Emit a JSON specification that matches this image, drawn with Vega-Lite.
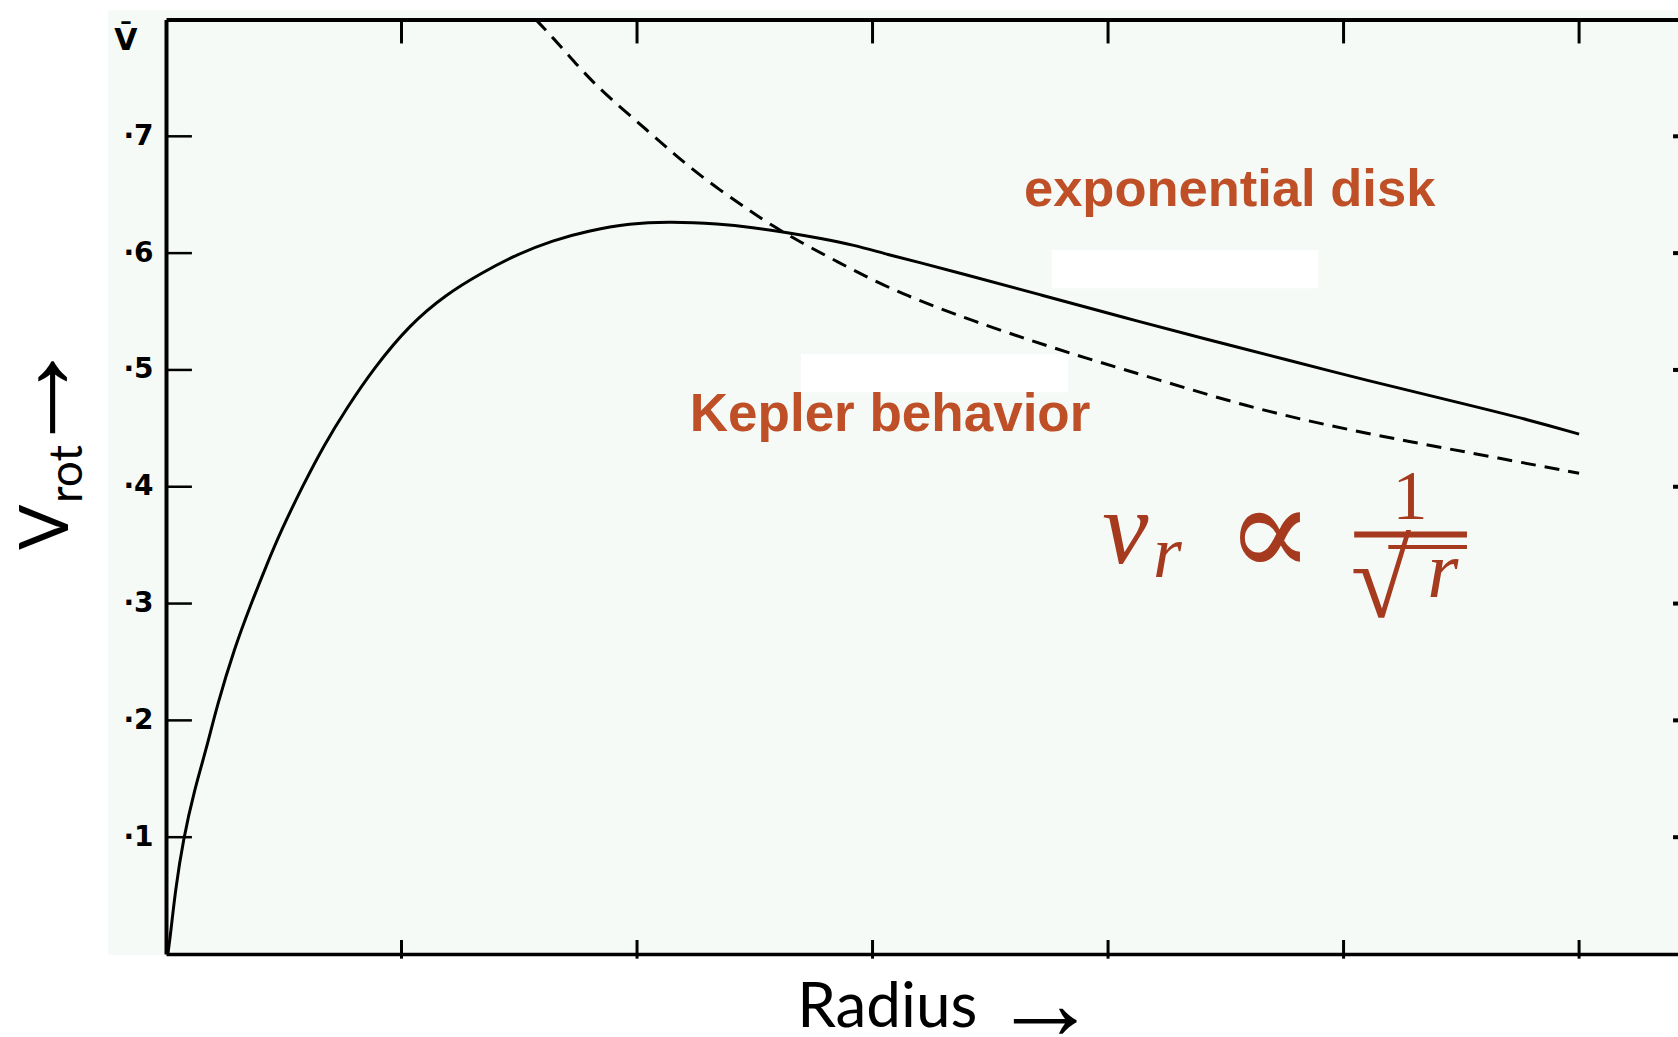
{
  "$schema": "https://vega.github.io/schema/vega-lite/v6.json",
  "width": 1512,
  "height": 934.5,
  "autosize": "none",
  "padding": {"left": 166, "top": 19.5, "right": 0, "bottom": 83},
  "background": "white",
  "config": {"view": {"stroke": null}},
  "datasets": {
    "disk": [
      {"r": 0.008, "v": 0.0}, {"r": 0.02, "v": 0.018}, {"r": 0.04, "v": 0.055}, {"r": 0.073, "v": 0.098},
      {"r": 0.12, "v": 0.14}, {"r": 0.172, "v": 0.176}, {"r": 0.217, "v": 0.213}, {"r": 0.293, "v": 0.263},
      {"r": 0.354, "v": 0.296}, {"r": 0.429, "v": 0.334}, {"r": 0.49, "v": 0.363}, {"r": 0.581, "v": 0.401},
      {"r": 0.672, "v": 0.436}, {"r": 0.763, "v": 0.466}, {"r": 0.884, "v": 0.502}, {"r": 1.036, "v": 0.539},
      {"r": 1.188, "v": 0.5645}, {"r": 1.339, "v": 0.583}, {"r": 1.49, "v": 0.599}, {"r": 1.643, "v": 0.611},
      {"r": 1.79, "v": 0.619}, {"r": 1.97, "v": 0.6255}, {"r": 2.14, "v": 0.627}, {"r": 2.35, "v": 0.625},
      {"r": 2.49, "v": 0.622}, {"r": 2.64, "v": 0.6176}, {"r": 2.78, "v": 0.6127}, {"r": 2.92, "v": 0.607},
      {"r": 3.06, "v": 0.599}, {"r": 3.2, "v": 0.592}, {"r": 3.37, "v": 0.583}, {"r": 3.72, "v": 0.564},
      {"r": 4.065, "v": 0.545}, {"r": 4.41, "v": 0.5267}, {"r": 4.76, "v": 0.5086}, {"r": 5.1, "v": 0.491},
      {"r": 5.45, "v": 0.474}, {"r": 5.8, "v": 0.4567}, {"r": 6.0, "v": 0.445}
    ],
    "kepler": [
      {"r": 1.57, "v": 0.8}, {"r": 1.645, "v": 0.784}, {"r": 1.73, "v": 0.7645}, {"r": 1.814, "v": 0.746},
      {"r": 1.928, "v": 0.725}, {"r": 2.041, "v": 0.7055}, {"r": 2.14, "v": 0.688}, {"r": 2.239, "v": 0.671},
      {"r": 2.352, "v": 0.654}, {"r": 2.466, "v": 0.638}, {"r": 2.565, "v": 0.6245}, {"r": 2.706, "v": 0.608},
      {"r": 2.848, "v": 0.593}, {"r": 2.99, "v": 0.578}, {"r": 3.13, "v": 0.565}, {"r": 3.27, "v": 0.5538},
      {"r": 3.43, "v": 0.5418}, {"r": 3.63, "v": 0.528}, {"r": 3.89, "v": 0.511}, {"r": 4.24, "v": 0.49},
      {"r": 4.585, "v": 0.469}, {"r": 4.93, "v": 0.4525}, {"r": 5.28, "v": 0.4386}, {"r": 5.625, "v": 0.4258},
      {"r": 6.0, "v": 0.4115}
    ],
    "yticks": [{"t": 0.1}, {"t": 0.2}, {"t": 0.3}, {"t": 0.4}, {"t": 0.5}, {"t": 0.6}, {"t": 0.7}],
    "xticks": [{"t": 1}, {"t": 2}, {"t": 3}, {"t": 4}, {"t": 5}, {"t": 6}]
  },
  "layer": [
    {
      "data": {"values": [{}]},
      "mark": {"type": "rect", "color": "#f5faf7"},
      "encoding": {
        "x": {"datum": -0.246, "type": "quantitative", "scale": {"domain": [0, 6.42], "nice": false}, "axis": null},
        "x2": {"datum": 6.45},
        "y": {"datum": -0.001, "type": "quantitative", "scale": {"domain": [0, 0.8], "nice": false}, "axis": null},
        "y2": {"datum": 0.808}
      }
    },
    {
      "data": {"values": [{}]},
      "mark": {"type": "rect", "color": "#ffffff"},
      "encoding": {
        "x": {"datum": 3.762, "type": "quantitative", "scale": {"domain": [0, 6.42], "nice": false}, "axis": null},
        "x2": {"datum": 4.892},
        "y": {"datum": 0.570, "type": "quantitative", "scale": {"domain": [0, 0.8], "nice": false}, "axis": null},
        "y2": {"datum": 0.6027}
      }
    },
    {
      "data": {"values": [{}]},
      "mark": {"type": "rect", "color": "#ffffff"},
      "encoding": {
        "x": {"datum": 2.696, "type": "quantitative", "scale": {"domain": [0, 6.42], "nice": false}, "axis": null},
        "x2": {"datum": 3.83},
        "y": {"datum": 0.481, "type": "quantitative", "scale": {"domain": [0, 0.8], "nice": false}, "axis": null},
        "y2": {"datum": 0.5137}
      }
    },
    {
      "data": {"name": "yticks"},
      "mark": {"type": "rule", "color": "black", "strokeWidth": 2.5},
      "encoding": {
        "y": {"field": "t", "type": "quantitative", "scale": {"domain": [0, 0.8], "nice": false}, "axis": null},
        "x": {"datum": 0, "type": "quantitative", "scale": {"domain": [0, 6.42], "nice": false}, "axis": null},
        "x2": {"datum": 0.11}
      }
    },
    {
      "data": {"name": "yticks"},
      "mark": {"type": "rule", "color": "black", "strokeWidth": 4},
      "encoding": {
        "y": {"field": "t", "type": "quantitative", "scale": {"domain": [0, 0.8], "nice": false}, "axis": null},
        "x": {"datum": 6.399, "type": "quantitative", "scale": {"domain": [0, 6.42], "nice": false}, "axis": null},
        "x2": {"datum": 6.45}
      }
    },
    {
      "data": {"name": "xticks"},
      "mark": {"type": "rule", "color": "black", "strokeWidth": 3},
      "encoding": {
        "x": {"field": "t", "type": "quantitative", "scale": {"domain": [0, 6.42], "nice": false}, "axis": null},
        "y": {"datum": 0.8, "type": "quantitative", "scale": {"domain": [0, 0.8], "nice": false}, "axis": null},
        "y2": {"datum": 0.7795}
      }
    },
    {
      "data": {"name": "xticks"},
      "mark": {"type": "rule", "color": "black", "strokeWidth": 3},
      "encoding": {
        "x": {"field": "t", "type": "quantitative", "scale": {"domain": [0, 6.42], "nice": false}, "axis": null},
        "y": {"datum": -0.004, "type": "quantitative", "scale": {"domain": [0, 0.8], "nice": false}, "axis": null},
        "y2": {"datum": 0.012}
      }
    },
    {
      "data": {"name": "disk"},
      "mark": {"type": "line", "color": "black", "strokeWidth": 3, "interpolate": "basis"},
      "encoding": {
        "x": {"field": "r", "type": "quantitative", "scale": {"domain": [0, 6.42], "nice": false},
          "axis": {"orient": "bottom", "zindex": 1, "labels": false, "ticks": false, "title": null, "grid": false,
            "domainColor": "black", "domainWidth": 3.5}},
        "y": {"field": "v", "type": "quantitative", "scale": {"domain": [0, 0.8], "nice": false},
          "axis": {"orient": "left", "zindex": 1, "values": [0.1, 0.2, 0.3, 0.4, 0.5, 0.6, 0.7], "title": null, "grid": false,
            "ticks": false,
            "labelExpr": "'·' + substring(format(datum.value, '.1f'), 2)",
            "labelFont": "DejaVu Sans", "labelFontWeight": "bold", "labelFontSize": 28, "labelColor": "black",
            "labelPadding": 13, "labelBaseline": "middle",
            "domainColor": "black", "domainWidth": 4}}
      }
    },
    {
      "data": {"name": "kepler"},
      "mark": {"type": "line", "color": "black", "strokeWidth": 3, "strokeDash": [15, 9], "interpolate": "basis"},
      "encoding": {
        "x": {"field": "r", "type": "quantitative", "scale": {"domain": [0, 6.42], "nice": false},
          "axis": {"orient": "top", "zindex": 1, "labels": false, "ticks": false, "title": null, "grid": false,
            "domainColor": "black", "domainWidth": 4}},
        "y": {"field": "v", "type": "quantitative", "scale": {"domain": [0, 0.8], "nice": false}, "axis": null}
      }
    },
    {
      "data": {"values": [{}]},
      "mark": {"type": "text", "text": "exponential disk", "font": "Liberation Sans", "fontWeight": "bold", "fontSize": 52.5, "color": "#be4f26", "align": "left", "baseline": "alphabetic"},
      "encoding": {
        "x": {"datum": 3.643, "type": "quantitative", "scale": {"domain": [0, 6.42], "nice": false}, "axis": null},
        "y": {"datum": 0.6404, "type": "quantitative", "scale": {"domain": [0, 0.8], "nice": false}, "axis": null}
      }
    },
    {
      "data": {"values": [{}]},
      "mark": {"type": "text", "text": "Kepler behavior", "font": "Liberation Sans", "fontWeight": "bold", "fontSize": 53, "color": "#be4f26", "align": "left", "baseline": "alphabetic"},
      "encoding": {
        "x": {"datum": 2.224, "type": "quantitative", "scale": {"domain": [0, 6.42], "nice": false}, "axis": null},
        "y": {"datum": 0.4478, "type": "quantitative", "scale": {"domain": [0, 0.8], "nice": false}, "axis": null}
      }
    },
    {
      "data": {"values": [{}]},
      "mark": {"type": "text", "text": "v", "font": "Liberation Serif", "fontStyle": "italic", "fontSize": 104, "color": "#a63a1e", "align": "left", "baseline": "alphabetic"},
      "encoding": {
        "x": {"datum": 3.975, "type": "quantitative", "scale": {"domain": [0, 6.42], "nice": false}, "axis": null},
        "y": {"datum": 0.3348, "type": "quantitative", "scale": {"domain": [0, 0.8], "nice": false}, "axis": null}
      }
    },
    {
      "data": {"values": [{}]},
      "mark": {"type": "text", "text": "r", "font": "Liberation Serif", "fontStyle": "italic", "fontSize": 74, "color": "#a63a1e", "align": "left", "baseline": "alphabetic"},
      "encoding": {
        "x": {"datum": 4.191, "type": "quantitative", "scale": {"domain": [0, 6.42], "nice": false}, "axis": null},
        "y": {"datum": 0.3228, "type": "quantitative", "scale": {"domain": [0, 0.8], "nice": false}, "axis": null}
      }
    },
    {
      "data": {"values": [{}]},
      "mark": {"type": "text", "text": "∝", "font": "DejaVu Serif", "fontSize": 130, "color": "#a63a1e", "align": "center", "baseline": "middle"},
      "encoding": {
        "x": {"datum": 4.688, "type": "quantitative", "scale": {"domain": [0, 6.42], "nice": false}, "axis": null},
        "y": {"datum": 0.3566, "type": "quantitative", "scale": {"domain": [0, 0.8], "nice": false}, "axis": null}
      }
    },
    {
      "data": {"values": [{}]},
      "mark": {"type": "text", "text": "1", "font": "Liberation Serif", "fontSize": 70, "color": "#a63a1e", "align": "center", "baseline": "alphabetic"},
      "encoding": {
        "x": {"datum": 5.282, "type": "quantitative", "scale": {"domain": [0, 6.42], "nice": false}, "axis": null},
        "y": {"datum": 0.3724, "type": "quantitative", "scale": {"domain": [0, 0.8], "nice": false}, "axis": null}
      }
    },
    {
      "data": {"values": [{}]},
      "mark": {"type": "rule", "color": "#a63a1e", "strokeWidth": 6},
      "encoding": {
        "x": {"datum": 5.045, "type": "quantitative", "scale": {"domain": [0, 6.42], "nice": false}, "axis": null},
        "x2": {"datum": 5.524},
        "y": {"datum": 0.3592, "type": "quantitative", "scale": {"domain": [0, 0.8], "nice": false}, "axis": null}
      }
    },
    {
      "data": {"values": [{}]},
      "mark": {"type": "rule", "color": "#a63a1e", "strokeWidth": 4},
      "encoding": {
        "x": {"datum": 5.19, "type": "quantitative", "scale": {"domain": [0, 6.42], "nice": false}, "axis": null},
        "x2": {"datum": 5.524},
        "y": {"datum": 0.3485, "type": "quantitative", "scale": {"domain": [0, 0.8], "nice": false}, "axis": null}
      }
    },
    {
      "data": {"values": [{}]},
      "mark": {"type": "text", "text": "√", "font": "Liberation Serif", "fontSize": 110, "color": "#a63a1e", "align": "left", "baseline": "alphabetic"},
      "encoding": {
        "x": {"datum": 5.03, "type": "quantitative", "scale": {"domain": [0, 6.42], "nice": false}, "axis": null},
        "y": {"datum": 0.2885, "type": "quantitative", "scale": {"domain": [0, 0.8], "nice": false}, "axis": null}
      }
    },
    {
      "data": {"values": [{}]},
      "mark": {"type": "text", "text": "r", "font": "Liberation Serif", "fontStyle": "italic", "fontSize": 80, "color": "#a63a1e", "align": "left", "baseline": "alphabetic"},
      "encoding": {
        "x": {"datum": 5.355, "type": "quantitative", "scale": {"domain": [0, 6.42], "nice": false}, "axis": null},
        "y": {"datum": 0.3057, "type": "quantitative", "scale": {"domain": [0, 0.8], "nice": false}, "axis": null}
      }
    },
    {
      "data": {"values": [{}]},
      "mark": {"type": "text", "text": "Radius", "font": "Lato", "fontSize": 62, "color": "black", "align": "left", "baseline": "alphabetic"},
      "encoding": {
        "x": {"datum": 2.68, "type": "quantitative", "scale": {"domain": [0, 6.42], "nice": false}, "axis": null},
        "y": {"datum": -0.0625, "type": "quantitative", "scale": {"domain": [0, 0.8], "nice": false}, "axis": null}
      }
    },
    {
      "data": {"values": [{}]},
      "mark": {"type": "text", "text": "→", "font": "Liberation Serif", "fontSize": 106, "color": "black", "align": "left", "baseline": "middle"},
      "encoding": {
        "x": {"datum": 3.507, "type": "quantitative", "scale": {"domain": [0, 6.42], "nice": false}, "axis": null},
        "y": {"datum": -0.0454, "type": "quantitative", "scale": {"domain": [0, 0.8], "nice": false}, "axis": null}
      }
    },
    {
      "data": {"values": [{}]},
      "mark": {"type": "text", "text": "V", "font": "Lato", "fontSize": 67, "color": "black", "align": "left", "baseline": "alphabetic", "angle": 270},
      "encoding": {
        "x": {"datum": -0.416, "type": "quantitative", "scale": {"domain": [0, 6.42], "nice": false}, "axis": null},
        "y": {"datum": 0.3459, "type": "quantitative", "scale": {"domain": [0, 0.8], "nice": false}, "axis": null}
      }
    },
    {
      "data": {"values": [{}]},
      "mark": {"type": "text", "text": "rot", "font": "Lato", "fontSize": 46, "color": "black", "align": "left", "baseline": "alphabetic", "angle": 270},
      "encoding": {
        "x": {"datum": -0.357, "type": "quantitative", "scale": {"domain": [0, 6.42], "nice": false}, "axis": null},
        "y": {"datum": 0.3861, "type": "quantitative", "scale": {"domain": [0, 0.8], "nice": false}, "axis": null}
      }
    },
    {
      "data": {"values": [{}]},
      "mark": {"type": "text", "text": "→", "font": "Liberation Serif", "fontSize": 122, "color": "black", "align": "left", "baseline": "middle", "angle": 270},
      "encoding": {
        "x": {"datum": -0.552, "type": "quantitative", "scale": {"domain": [0, 6.42], "nice": false}, "axis": null},
        "y": {"datum": 0.4245, "type": "quantitative", "scale": {"domain": [0, 0.8], "nice": false}, "axis": null}
      }
    },
    {
      "data": {"values": [{}]},
      "mark": {"type": "text", "text": "V̄", "font": "DejaVu Sans", "fontWeight": "bold", "fontSize": 30, "color": "black", "align": "center", "baseline": "alphabetic"},
      "encoding": {
        "x": {"datum": -0.17, "type": "quantitative", "scale": {"domain": [0, 6.42], "nice": false}, "axis": null},
        "y": {"datum": 0.774, "type": "quantitative", "scale": {"domain": [0, 0.8], "nice": false}, "axis": null}
      }
    }
  ],
  "resolve": {"axis": {"x": "independent", "y": "independent"}}
}
